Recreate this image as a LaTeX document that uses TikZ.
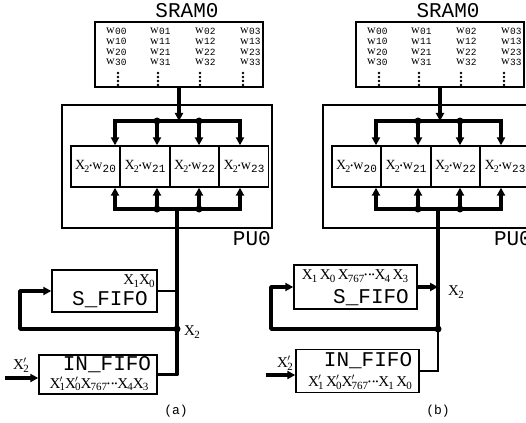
\documentclass[tikz,border=0pt]{standalone}
\usepackage{fontspec}
\setmainfont{Liberation Serif}
\setmonofont{Liberation Mono}
\usetikzlibrary{arrows.meta}
\newcommand\myW[1]{w\kern0.2pt\raisebox{-0.8pt}{\ttfamily\fontsize{9.5}{9.5}\selectfont #1}}
\newcommand\myX[1]{X\kern-0.8pt\raisebox{-2.6pt}{\fontsize{11}{11}\selectfont #1}}
\newcommand\myXp[1]{X\kern-0.8pt\rlap{\raisebox{6pt}{\fontsize{10}{10}\selectfont$\prime$}}\raisebox{-2.6pt}{\fontsize{11}{11}\selectfont #1}}
\newcommand\mydots{\raisebox{2pt}{\fontsize{8}{8}\selectfont\textbullet\kern1.5pt\textbullet\kern0.3pt\textbullet}}
\newcommand\myCell[1]{X\kern-0.8pt\raisebox{-2.4pt}{\fontsize{10}{10}\selectfont 2}\raisebox{1pt}{\fontsize{8}{8}\selectfont\textbullet}w\kern0.3pt\raisebox{-2.4pt}{\ttfamily\fontsize{11}{11}\selectfont #1}}
\tikzset{
  box/.style={draw, line width=1.4pt, inner sep=0pt},
  cell/.style={box, minimum width=49, minimum height=41, font=\fontsize{14}{14}\selectfont},
  bus/.style={line width=3.4pt, line join=round},
  wire/.style={line width=1.2pt},
  arr/.style={-{Triangle[length=8pt,width=8pt]}},
  jdot/.style={circle, fill, inner sep=0pt, minimum size=7pt},
  mono/.style={inner sep=0pt, text height=12pt, text depth=2pt, font=\ttfamily\fontsize{21}{21}\selectfont},
  smono/.style={inner sep=0pt, font=\ttfamily\fontsize{13}{13}\selectfont},
  serif/.style={inner sep=0pt, text height=10pt, text depth=3pt, font=\fontsize{15}{15}\selectfont},
  wcol/.style={inner sep=0pt, anchor=north west, align=left, font=\fontsize{12}{10.3}\selectfont},
}
\newcommand\puPart[1]{%
  \node[mono] (#1sl) at (187,13) {SRAM0};
  \node[box, minimum width=168, minimum height=65] (#1sram) at (179,54.5) {};
  \foreach \c/\xx in {0/106,1/150,2/195,3/240}{
    \node[wcol] (#1wc\c) at (\xx,28) {\myW{0\c}\\\myW{1\c}\\\myW{2\c}\\\myW{3\c}};
  }
  \foreach \xx in {118,158,200,243}{
    \foreach \yy in {73,77,81,85}{ \fill (\xx,\yy) circle (1.4pt); }
  }
  \node[box, minimum width=210, minimum height=123] (#1pu) at (167,166.5) {};
  \node[mono, anchor=north east] (#1pl) at (271,233) {PU0};
  \node[cell] (#1c0) at (95.5,166.5) {\myCell{20}};
  \node[cell] (#1c1) at (145,166.5) {\myCell{21}};
  \node[cell] (#1c2) at (194.5,166.5) {\myCell{22}};
  \node[cell] (#1c3) at (244,166.5) {\myCell{23}};
  \coordinate (#1tm) at (179,121);
  \coordinate (#1t0) at (115,121);
  \coordinate (#1t1) at (157,121);
  \coordinate (#1t2) at (199,121);
  \coordinate (#1t3) at (240,121);
  \coordinate (#1b0) at (115,209);
  \coordinate (#1b1) at (157,209);
  \coordinate (#1b2) at (199,209);
  \coordinate (#1b3) at (240,209);
  \coordinate (#1bm) at (177,209);
  \draw[bus, arr] (#1sram.south) -- (#1tm);
  \draw[bus, line cap=rect] (#1t0) -- (#1t3);
  \draw[bus, line cap=rect] (#1b0) -- (#1b3);
  \foreach \i in {0,...,3}{
    \draw[bus, arr] (#1t\i) -- (#1t\i |- #1c0.north);
    \draw[bus, arr] (#1b\i) -- (#1b\i |- #1c0.south);
  }
  \node[jdot] at (#1t1) {};
  \node[jdot] at (#1t2) {};
  \node[jdot] at (#1b1) {};
  \node[jdot] at (#1b2) {};
}
\begin{document}
\begin{tikzpicture}[x=1pt, y=-1pt]
\useasboundingbox (0,0) rectangle (526,422);
\clip (0,0) rectangle (526,422);
% ---------- panel (a)
\puPart{a}
\node[box, minimum width=105, minimum height=42] (asf) at (104.5,291) {};
\node[serif] (asft) at (139,281) {\myX{1}\myX{0}};
\node[mono] (asfl) at (110,300) {S\_FIFO};
\node[box, minimum width=118, minimum height=39] (ain) at (98,374.5) {};
\node[mono] (ainl) at (107,365) {IN\_FIFO};
\node[serif] (aint) at (99,384.5) {\myXp{1}\myXp{0}\myX{767}\mydots\myX{4}\myX{3}};
\coordinate (aj) at (177,329);
\coordinate (al1) at (20,329);
\coordinate (al2) at (20,291);
\coordinate (ai) at (5,378);
\draw[bus] (abm) -- (aj);
\draw[bus] (ain.east) -| (aj);
\draw[wire] (asf.east) -- (asf.east -| aj);
\draw[bus, arr] (aj) -- (al1) -- (al2) -- (asf.west);
\node[jdot] at (aj) {};
\node[serif] (ax2) at (192,332) {\myX{2}};
\draw[bus, arr] (ai) -- (ai -| ain.west);
\node[serif] (aix) at (21,366) {\myXp{2}};
\node[smono] (acap) at (176,411) {(a)};
% ---------- panel (b)
\begin{scope}[xshift=261pt]
\puPart{b}
\end{scope}
\node[box, minimum width=123, minimum height=44] (bsf) at (355.5,287) {};
\node[serif] (bsft) at (355,276) {\myX{1}\,\myX{0}\,\myX{767}\mydots\myX{4}\,\myX{3}};
\node[mono] (bsfl) at (371,298) {S\_FIFO};
\node[box, minimum width=123, minimum height=43] (bin) at (357.5,371) {};
\node[mono] (binl) at (368,361) {IN\_FIFO};
\node[serif] (bint) at (360,383) {\myXp{1}\,\myXp{0}\myXp{767}\mydots\myX{1}\,\myX{0}};
\coordinate (bj) at (438,329);
\coordinate (bl1) at (271,329);
\coordinate (bl2) at (271,287);
\coordinate (bi) at (266,375);
\draw[bus] (bbm) -- (bj);
\draw[wire] (bin.east) -| (bj);
\draw[bus, arr] (bsf.east) -- (bsf.east -| bj);
\draw[bus, arr] (bj) -- (bl1) -- (bl2) -- (bsf.west);
\node[jdot] at (bj) {};
\node[serif] (bx2) at (456,292) {\myX{2}};
\draw[bus, arr] (bi) -- (bi -| bin.west);
\node[serif] (bix) at (285,364) {\myXp{2}};
\node[smono] (bcap) at (438,411) {(b)};
\end{tikzpicture}
\end{document}
